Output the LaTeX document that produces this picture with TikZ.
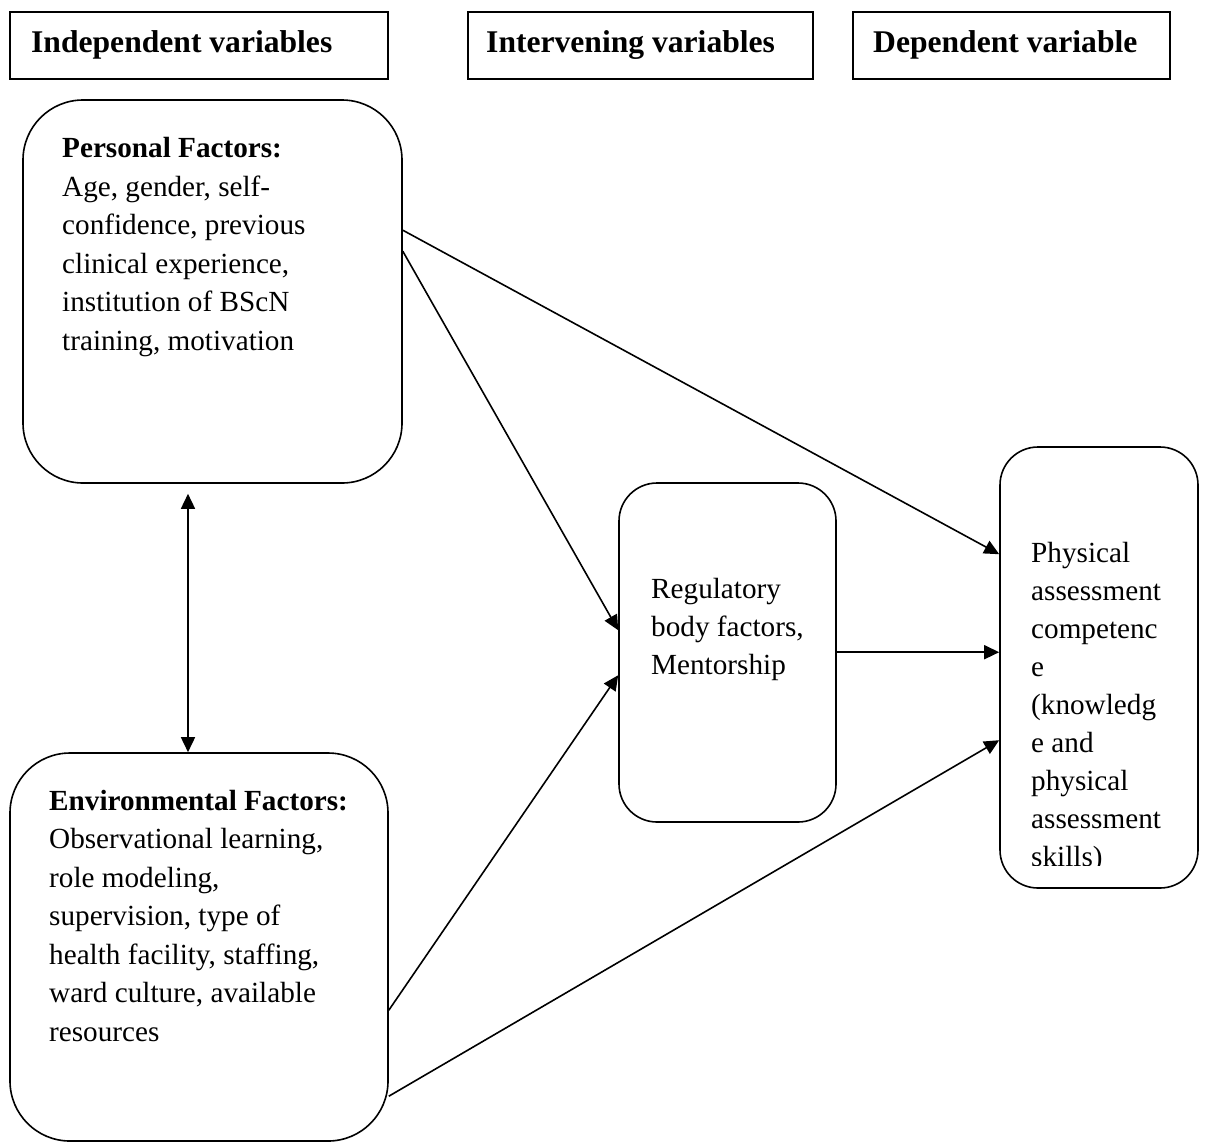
\documentclass[tikz,border=0pt]{standalone}
\usepackage{fontspec}
\setmainfont{Liberation Serif}
\usetikzlibrary{arrows.meta}
\begin{document}
\begin{tikzpicture}[x=1pt,y=-1pt,
  hdr/.style={draw,line width=2pt,minimum width=#1,minimum height=67pt,inner sep=0pt},
  rbox/.style={draw,line width=1.6pt,rounded corners=#1,inner sep=0pt},
  txt/.style={anchor=base west,align=left,inner sep=0pt,font=\fontsize{29.2}{38.5}\selectfont},
  htxt/.style={anchor=base west,inner sep=0pt,font=\fontsize{31.6}{36}\selectfont\bfseries},
  arr/.style={line width=1.6pt,-{Triangle[length=15pt,width=14pt]}},
  darr/.style={line width=1.6pt,{Triangle[length=15pt,width=14pt]}-{Triangle[length=15pt,width=14pt]}}
]
\useasboundingbox (0,0) rectangle (1206,1144);

% header boxes
\node[hdr=378pt] (h1) at (199,45.5) {};
\node[hdr=345pt] (h2) at (640.5,45.5) {};
\node[hdr=317pt] (h3) at (1011.5,45.5) {};
\node[htxt] (h1t) at (31,52) {Independent variables};
\node[htxt] (h2t) at (486,52) {Intervening variables};
\node[htxt] (h3t) at (873,52) {Dependent variable};

% main boxes
\node[rbox=60pt,minimum width=379pt,minimum height=383pt] (pers) at (212.5,291.5) {};
\node[rbox=60pt,minimum width=378pt,minimum height=388pt] (env) at (199,947) {};
\node[rbox=38pt,minimum width=217pt,minimum height=339pt] (reg) at (727.5,652.5) {};
\node[rbox=38pt,minimum width=198pt,minimum height=441pt] (phys) at (1099,667.5) {};

% texts (anchor = baseline of last line)
\node[txt] (perst) at (62,350) {\textbf{Personal Factors:}\\Age, gender, self-\\confidence, previous\\clinical experience,\\institution of BScN\\training, motivation};
\node[txt] (envt) at (49,1041) {\textbf{Environmental Factors:}\\Observational learning,\\role modeling,\\supervision, type of\\health facility, staffing,\\ward culture, available\\resources};
\node[txt,font=\fontsize{29.2}{38}\selectfont] (regt) at (651,674) {Regulatory\\body factors,\\Mentorship};
\begin{scope}
\clip (1001,448) rectangle (1197,865);
\node[txt,font=\fontsize{29.2}{38}\selectfont] (physt) at (1031,866) {Physical\\assessment\\competenc\\e\\(knowledg\\e and\\physical\\assessment\\skills)};
\end{scope}

% connectors
\draw[arr] ([yshift=-131pt]pers.north east) -- ([yshift=-108pt]phys.north west);
\draw[arr] ([yshift=-152pt]pers.north east) -- ([yshift=-148pt]reg.north west);
\draw[arr] ([yshift=-258pt]env.north east) -- ([yshift=-193pt]reg.north west);
\draw[arr] ([yshift=-344pt]env.north east) -- ([yshift=-294pt]phys.north west);
\draw[arr] ([yshift=-170pt]reg.north east) -- ([yshift=-206pt]phys.north west);
\draw[darr] ([xshift=-24.5pt,yshift=-10pt]pers.south) -- ([xshift=-11pt]env.north);
\end{tikzpicture}
\end{document}
